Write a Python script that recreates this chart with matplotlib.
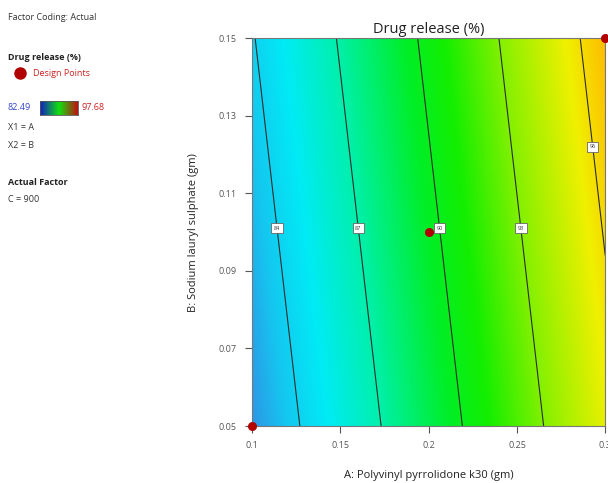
import numpy as np
import matplotlib.pyplot as plt
from matplotlib.colors import LinearSegmentedColormap
from matplotlib.lines import Line2D

# fitted response surface for drug release at C = 900 (actual units)
coef_intercept = 74.89
coef_A = 65.2          # Polyvinyl pyrrolidone k30
coef_B = 16.5          # Sodium lauryl sulphate

A_range = [0.10, 0.30]
B_range = [0.05, 0.15]
contour_levels = [84, 87, 90, 93, 96]
label_pos_A = [0.115, 0.161, 0.206, 0.252, 0.292]
label_pos_B = [0.101, 0.101, 0.101, 0.101, 0.122]

design_A = [0.10, 0.20, 0.30]
design_B = [0.05, 0.10, 0.15]

resp_min, resp_max = 82.49, 97.68

# colour ramp used for the surface
ramp_vals = [82.2, 83.5, 85.0, 87.0, 89.5, 91.0, 93.0, 95.5, 97.0]
ramp_rgb = [(45, 150, 230), (20, 200, 240), (0, 235, 245), (0, 240, 170),
            (0, 238, 40), (20, 238, 0), (130, 240, 0), (240, 240, 0), (255, 185, 0)]

lo, hi = ramp_vals[0], ramp_vals[-1]
cmap = LinearSegmentedColormap.from_list(
    'surf', [((v - lo) / (hi - lo), tuple(c / 255 for c in rgb))
             for v, rgb in zip(ramp_vals, ramp_rgb)])

plt.rcParams['font.family'] = ['Open Sans', 'DejaVu Sans']
fig = plt.figure(figsize=(6.08, 4.83), dpi=100)
ax = fig.add_axes([0.4145, 0.118, 0.581, 0.803])

A = np.linspace(*A_range, 300)
B = np.linspace(*B_range, 300)
AA, BB = np.meshgrid(A, B)
Z = coef_intercept + coef_A * AA + coef_B * BB

ax.imshow(Z, origin='lower', extent=[*A_range, *B_range], aspect='auto',
          cmap=cmap, vmin=lo, vmax=hi, interpolation='bilinear')
cs = ax.contour(AA, BB, Z, levels=contour_levels, colors='#2b2b2b', linewidths=0.8)
labels = ax.clabel(cs, fmt='%d', fontsize=4, inline=False,
                   manual=list(zip(label_pos_A, label_pos_B)))
for t in labels:
    t.set_rotation(0)
    t.set_color('#333333')
    t.set_bbox(dict(boxstyle='square,pad=0.45', fc='white', ec='#666666', lw=0.6))

ax.scatter(design_A, design_B, s=30, color='#b00000', zorder=5, clip_on=False)

ax.set_xlim(*A_range)
ax.set_ylim(*B_range)
ax.set_xticks([0.1, 0.15, 0.2, 0.25, 0.3])
ax.set_xticklabels(['0.1', '0.15', '0.2', '0.25', '0.3'])
ax.set_yticks([0.05, 0.07, 0.09, 0.11, 0.13, 0.15])
ax.set_yticklabels(['0.05', '0.07', '0.09', '0.11', '0.13', '0.15'])
ax.tick_params(labelsize=6.5, colors='#555555', length=5, width=0.8, pad=6)
for s in ax.spines.values():
    s.set_color('#777777')
    s.set_linewidth(0.8)

ax.set_title('Drug release (%)', fontsize=10.5, color='#222222', pad=4)
ax.set_xlabel('A: Polyvinyl pyrrolidone k30 (gm)', fontsize=8, color='#222222', labelpad=14)
ax.set_ylabel('B: Sodium lauryl sulphate (gm)', fontsize=8, color='#222222', labelpad=14)

# side panel
def px(x, y):
    return x / 608, 1 - y / 483

fig.text(*px(8, 18), 'Factor Coding: Actual', fontsize=6.5, color='#333333', va='center')
fig.text(*px(8, 57), 'Drug release (%)', fontsize=6.5, color='#222222', weight='bold', va='center')
x0, y0 = px(20, 73)
fig.add_artist(Line2D([x0], [y0], marker='o', markersize=8, color='#b00000',
                      transform=fig.transFigure))
fig.text(*px(33, 73), 'Design Points', fontsize=6.5, color='#cc2222', va='center')
fig.text(*px(8, 108), f'{resp_min:.2f}', fontsize=6.5, color='#3344cc', va='center')
fig.text(*px(81, 108), f'{resp_max:.2f}', fontsize=6.5, color='#cc2222', va='center')
cax = fig.add_axes([40 / 608, 1 - 115 / 483, 38 / 608, 14 / 483])
bar_cmap = LinearSegmentedColormap.from_list('bar', ['#1020c0', '#10e010', '#c01010'])
cax.imshow(np.linspace(0, 1, 100)[None, :], aspect='auto', cmap=bar_cmap)
cax.set_xticks([])
cax.set_yticks([])
for s in cax.spines.values():
    s.set_color('#555555')
    s.set_linewidth(0.6)
fig.text(*px(8, 128), 'X1 = A', fontsize=6.5, color='#333333', va='center')
fig.text(*px(8, 146), 'X2 = B', fontsize=6.5, color='#333333', va='center')
fig.text(*px(8, 183), 'Actual Factor', fontsize=6.5, color='#222222', weight='bold', va='center')
fig.text(*px(8, 200), 'C = 900', fontsize=6.5, color='#333333', va='center')

fig.savefig('out.png', dpi=100)
